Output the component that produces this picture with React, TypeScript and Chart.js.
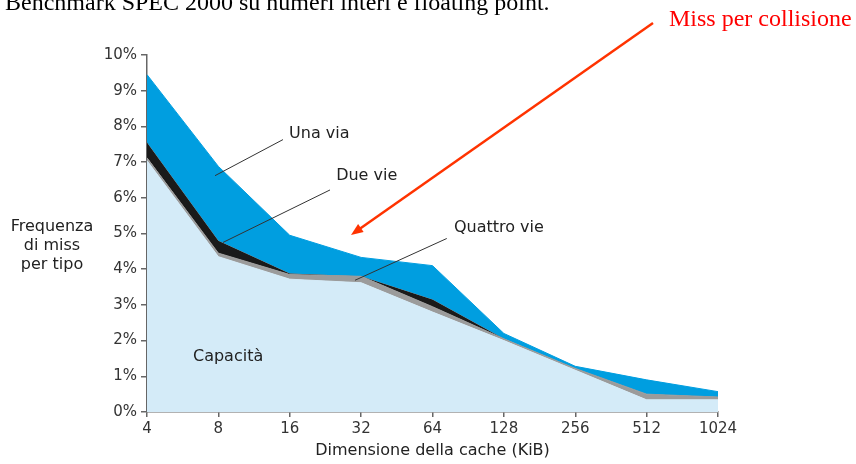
import React, { useEffect, useRef } from "react";
import { Chart, registerables } from "chart.js";

Chart.register(...registerables);

// Cache sizes (KiB)
const cacheSizes = ["4", "8", "16", "32", "64", "128", "256", "512", "1024"];
// Miss rate per type (%), stacked from bottom to top
const capacity = [7.04, 4.35, 3.72, 3.62, 2.8, 2.0, 1.17, 0.34, 0.34];
const quattroVie = [0.08, 0.1, 0.13, 0.18, 0.15, 0.05, 0.05, 0.16, 0.08];
const dueVie = [0.43, 0.35, 0.03, 0, 0.2, 0, 0, 0, 0];
const unaVia = [1.9, 2.08, 1.07, 0.53, 0.95, 0.15, 0.06, 0.4, 0.15];
const yMin = 0;
const yMax = 10;
const yStep = 1;

const SANS = "'DejaVu Sans', sans-serif";
const SERIF = "'Liberation Serif', 'Times New Roman', serif";

const annotations = {
  id: "annotations",
  afterDatasetsDraw(chart: any) {
    const { ctx, scales } = chart;
    const xs = scales.x;
    const ys = scales.y;
    const n = cacheSizes.length - 1;
    const px = (i: number) => xs.getPixelForDecimal(i / n);
    const py = (v: number) => ys.getPixelForValue(v);
    ctx.save();

    // leader lines
    ctx.strokeStyle = "#333";
    ctx.lineWidth = 1;
    const leader = (a: number[], b: number[]) => {
      ctx.beginPath();
      ctx.moveTo(px(a[0]), py(a[1]));
      ctx.lineTo(px(b[0]), py(b[1]));
      ctx.stroke();
    };
    leader([1.905, 7.63], [0.953, 6.62]);
    leader([2.564, 6.22], [1.065, 4.75]);
    leader([4.2, 4.86], [2.914, 3.69]);

    ctx.fillStyle = "#222";
    ctx.font = `16px ${SANS}`;
    ctx.textAlign = "left";
    ctx.textBaseline = "alphabetic";
    ctx.fillText("Una via", px(1.99), 138);
    ctx.fillText("Due vie", px(2.65), 180);
    ctx.fillText("Quattro vie", px(4.3), 232);
    ctx.fillText("Capacità", px(0.644), 361);

    // y axis title
    ctx.textAlign = "center";
    ctx.fillText("Frequenza", 52, 231);
    ctx.fillText("di miss", 52, 250);
    ctx.fillText("per tipo", 52, 269);

    // x axis title
    ctx.fillText("Dimensione della cache (KiB)", (xs.left + xs.right) / 2, 455);

    // page heading (clipped at top)
    ctx.fillStyle = "#000";
    ctx.font = `24px ${SERIF}`;
    ctx.textAlign = "left";
    ctx.fillText("Benchmark SPEC 2000 su numeri interi e floating point.", 5, 10);

    // red annotation
    ctx.fillStyle = "#ff0000";
    ctx.fillText("Miss per collisione", 669, 26);

    // red arrow
    const x1 = 653, y1 = 23, x2 = 351, y2 = 235;
    ctx.strokeStyle = "#ff3300";
    ctx.fillStyle = "#ff3300";
    ctx.lineWidth = 2.5;
    const ang = Math.atan2(y2 - y1, x2 - x1);
    const headLen = 13;
    ctx.beginPath();
    ctx.moveTo(x1, y1);
    ctx.lineTo(x2 - Math.cos(ang) * headLen * 0.8, y2 - Math.sin(ang) * headLen * 0.8);
    ctx.stroke();
    ctx.beginPath();
    ctx.moveTo(x2, y2);
    ctx.lineTo(x2 - headLen * Math.cos(ang - 0.38), y2 - headLen * Math.sin(ang - 0.38));
    ctx.lineTo(x2 - headLen * Math.cos(ang + 0.38), y2 - headLen * Math.sin(ang + 0.38));
    ctx.closePath();
    ctx.fill();

    ctx.restore();
  },
};

export default function App() {
  const ref = useRef<HTMLCanvasElement | null>(null);
  useEffect(() => {
    if (!ref.current) return;
    const axisColor = "#666";
    const chart = new Chart(ref.current, {
      type: "line",
      data: {
        labels: cacheSizes,
        datasets: [
          {
            label: "Capacità",
            data: capacity,
            fill: "origin",
            backgroundColor: "#d4ebf8",
            borderColor: "#d4ebf8",
            borderWidth: 1,
            pointRadius: 0,
            tension: 0,
          },
          {
            label: "Quattro vie",
            data: quattroVie,
            fill: "-1",
            backgroundColor: "#9b9b9b",
            borderColor: "#9b9b9b",
            borderWidth: 1,
            pointRadius: 0,
            tension: 0,
          },
          {
            label: "Due vie",
            data: dueVie,
            fill: "-1",
            backgroundColor: "#1a1a1a",
            borderColor: "#1a1a1a",
            borderWidth: 0,
            pointRadius: 0,
            tension: 0,
          },
          {
            label: "Una via",
            data: unaVia,
            fill: "-1",
            backgroundColor: "#009ee0",
            borderColor: "#009ee0",
            borderWidth: 1,
            pointRadius: 0,
            tension: 0,
          },
        ],
      },
      options: {
        responsive: false,
        animation: false,
        devicePixelRatio: 1,
        layout: { padding: { left: 0, right: 138, top: 55, bottom: 0 } },
        plugins: {
          legend: { display: false },
          tooltip: { enabled: false },
        },
        scales: {
          x: {
            type: "category",
            offset: false,
            grid: {
              display: true,
              drawOnChartArea: false,
              drawTicks: true,
              tickLength: 5,
              color: axisColor,
              lineWidth: 1.5,
            },
            border: { display: true, color: axisColor, width: 1.5 },
            ticks: {
              color: "#333",
              font: { family: SANS, size: 15 },
              padding: 3,
              maxRotation: 0,
              autoSkip: false,
            },
            afterFit: (s: any) => {
              s.height = 52;
            },
          },
          y: {
            stacked: true,
            min: yMin,
            max: yMax,
            grid: {
              display: true,
              drawOnChartArea: false,
              drawTicks: true,
              tickLength: 6,
              color: axisColor,
              lineWidth: 1.5,
            },
            border: { display: true, color: axisColor, width: 1.5 },
            ticks: {
              stepSize: yStep,
              color: "#333",
              font: { family: SANS, size: 15 },
              padding: 4,
              callback: (v: any) => `${v}%`,
            },
            afterFit: (s: any) => {
              s.width = 147;
            },
          },
        },
      },
      plugins: [annotations],
    });
    return () => chart.destroy();
  }, []);
  return (
    <canvas
      ref={ref}
      width={856}
      height={464}
      style={{ position: "fixed", left: 0, top: 0, width: 856, height: 464, background: "#fff" }}
    />
  );
}
